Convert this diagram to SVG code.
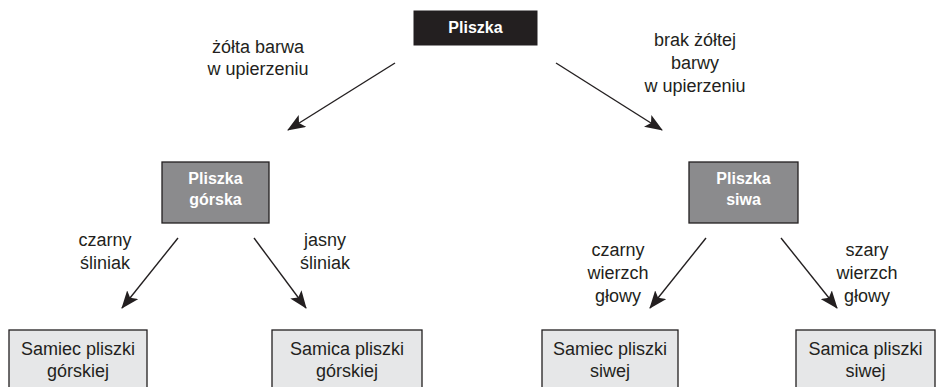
<svg xmlns="http://www.w3.org/2000/svg" width="938" height="387" viewBox="0 0 938 387">
<defs>
<marker id="ah" markerUnits="userSpaceOnUse" markerWidth="18" markerHeight="14" viewBox="0 0 18 14" refX="17" refY="7" orient="auto">
<path d="M0,0 L18,7 L0,14 L4,7 Z" fill="#231f20"/>
</marker>
<style>
text{font-family:"Liberation Sans",Arial,sans-serif;fill:#231f20;font-size:18px;text-anchor:middle}
.b{font-weight:bold;font-size:16px;fill:#ffffff}
.dark{fill:#231f20;stroke:#231f20}
.mid{fill:#8b8b8d;stroke:#231f20;stroke-width:1.3}
.light{fill:#e6e7e8;stroke:#231f20;stroke-width:1.3}
.conn line{stroke:#231f20;stroke-width:1.4;marker-end:url(#ah)}
</style>
</defs>
<rect width="938" height="387" fill="#ffffff"/>
<g id="connectors" class="conn">
<line x1="395" y1="63" x2="288" y2="130"/>
<line x1="556" y1="63" x2="662" y2="130"/>
<line x1="178" y1="238" x2="122" y2="308"/>
<line x1="254" y1="238" x2="306" y2="308"/>
<line x1="706" y1="238" x2="650" y2="308"/>
<line x1="781" y1="238" x2="837" y2="308"/>
</g>
<g id="labels">
<text x="258" y="53">żółta barwa</text>
<text x="258" y="75">w upierzeniu</text>
<text x="695" y="46">brak żółtej</text>
<text x="695" y="69">barwy</text>
<text x="695" y="92">w upierzeniu</text>
<text x="105" y="246">czarny</text>
<text x="105" y="269">śliniak</text>
<text x="325" y="246">jasny</text>
<text x="325" y="269">śliniak</text>
<text x="618" y="256">czarny</text>
<text x="618" y="279">wierzch</text>
<text x="618" y="302">głowy</text>
<text x="867" y="256">szary</text>
<text x="867" y="279">wierzch</text>
<text x="867" y="302">głowy</text>
</g>
<g id="pliszka">
<rect class="dark" x="414" y="11" width="123" height="34"/>
<text class="b" x="475.5" y="33">Pliszka</text>
</g>
<g id="pliszka-gorska">
<rect class="mid" x="162" y="162" width="107" height="61"/>
<text class="b" x="215.5" y="184">Pliszka</text>
<text class="b" x="215.5" y="205">górska</text>
</g>
<g id="pliszka-siwa">
<rect class="mid" x="689" y="162" width="109" height="61"/>
<text class="b" x="743.5" y="184">Pliszka</text>
<text class="b" x="743.5" y="205">siwa</text>
</g>
<g id="samiec-gorskiej">
<rect class="light" x="9" y="330" width="138" height="70"/>
<text x="78" y="355">Samiec pliszki</text>
<text x="78" y="377">górskiej</text>
</g>
<g id="samica-gorskiej">
<rect class="light" x="272" y="330" width="150" height="70"/>
<text x="347" y="355">Samica pliszki</text>
<text x="347" y="377">górskiej</text>
</g>
<g id="samiec-siwej">
<rect class="light" x="542" y="330" width="136" height="70"/>
<text x="610" y="355">Samiec pliszki</text>
<text x="610" y="377">siwej</text>
</g>
<g id="samica-siwej">
<rect class="light" x="796" y="330" width="139" height="70"/>
<text x="865.5" y="355">Samica pliszki</text>
<text x="865.5" y="377">siwej</text>
</g>
</svg>
